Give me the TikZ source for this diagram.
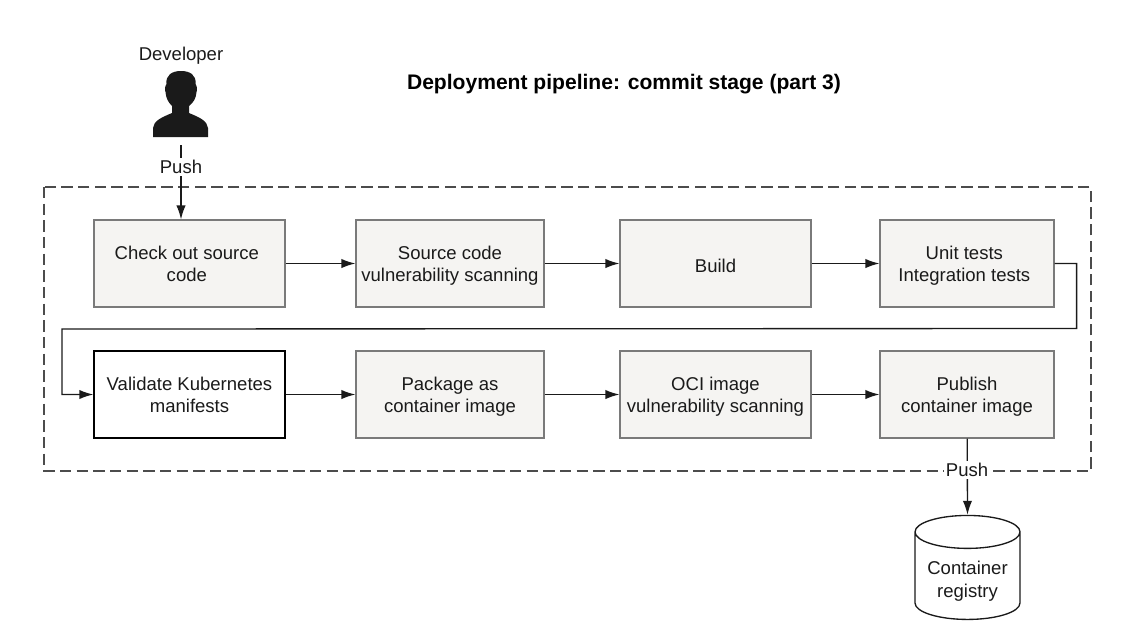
\documentclass[tikz,border=0pt]{standalone}
\usepackage{fontspec}
\setmainfont{Liberation Sans}
\usetikzlibrary{arrows.meta,shapes.geometric}
\definecolor{stagefill}{HTML}{F5F4F2}
\definecolor{stageline}{HTML}{7A7A7A}
\definecolor{inktext}{HTML}{1A1A1A}
\tikzset{
	stage/.style={draw=stageline, fill=stagefill, line width=0.9pt, align=center, text=inktext, minimum height=65.25pt, inner sep=0pt, text depth=0pt},
	stagenew/.style={stage, draw=black, fill=white, line width=1pt},
	flow/.style={draw=inktext, line width=1pt, -{Latex[length=10.5pt,width=7pt]}},
	pushlabel/.style={fill=white, text=inktext, inner sep=1.5pt}
}
\begin{document}
\begin{tikzpicture}[x=0.75pt, y=-0.75pt, font=\fontsize{13.9pt}{16.5pt}\selectfont]
	\useasboundingbox (0,0) rectangle (1123,637);
	% pipeline frame
	\draw[draw=black!70, line width=1pt, dash pattern=on 8.5pt off 4pt] (44,187) rectangle (1091,471);
	% developer
	\node[text=inktext] (developer) at (181,56) {Developer};
	\fill[inktext] (153,137) -- (153,128) .. controls (154,121) and (160,118) .. (172,113)
		-- (172,106) .. controls (168,102) and (166,98) .. (165.500,92)
		.. controls (164.500,90) and (165,86) .. (166.500,84)
		.. controls (165.500,75) and (172,71) .. (181,71)
		.. controls (190,71) and (196.500,75) .. (195.500,84)
		.. controls (197,86) and (197.500,90) .. (196.500,92)
		.. controls (196,98) and (194,102) .. (189,106)
		-- (189,113) .. controls (201,118) and (207,121) .. (208,128) -- (208,137) -- cycle;
	\coordinate (person) at (181,145);
	\node (title) at (624,84) {\fontsize{15.8pt}{19pt}\selectfont\bfseries Deployment pipeline: commit stage (part 3)};
	% first row
	\node[stage, minimum width=143.25pt] (checkout) at (189.5,263.5) {Check out source\kern4pt\\code\kern4pt};
	\node[stage, minimum width=141pt] (codescan) at (450,263.5) {Source code\\vulnerability scanning};
	\node[stage, minimum width=143.25pt, text height=13pt] (build) at (715.5,263.5) {Build};
	\node[stage, minimum width=130.5pt] (tests) at (967,263.5) {Unit tests\kern4pt\\Integration tests\kern4pt};
	% second row
	\node[stagenew, minimum width=143.25pt] (validate) at (189.5,394.5) {Validate Kubernetes\\manifests};
	\node[stage, minimum width=141pt] (package) at (450,394.5) {Package as\\container image};
	\node[stage, minimum width=143.25pt] (imagescan) at (715.5,394.5) {OCI image\\vulnerability scanning};
	\node[stage, minimum width=130.5pt] (publish) at (967,394.5) {Publish\\container image};
	% registry
	\node[cylinder, shape border rotate=90, draw=inktext, line width=1pt, fill=white, aspect=0.41,
		minimum width=78.75pt, minimum height=78pt, align=center, inner sep=0pt, text=inktext,
		text depth=0pt, text height=32pt] (registry) at (967.5,576) {Container\\[0.75pt]registry};
	% arrows
	\draw[flow] (person) -- (checkout.north -| person);
	\node[pushlabel] (pushin) at (181,167) {Push};
	\draw[flow] (checkout) -- (codescan);
	\draw[flow] (codescan) -- (build);
	\draw[flow] (build) -- (tests);
	\draw[flow] (tests.east) -- ++(22,0) -- ++(0,65) -- (62,329) |- (validate.west);
	\draw[flow] (validate) -- (package);
	\draw[flow] (package) -- (imagescan);
	\draw[flow] (imagescan) -- (publish);
	\draw[flow] (publish) -- (registry.north);
	\node[pushlabel] (pushout) at (967,470) {Push};
\end{tikzpicture}
\end{document}
